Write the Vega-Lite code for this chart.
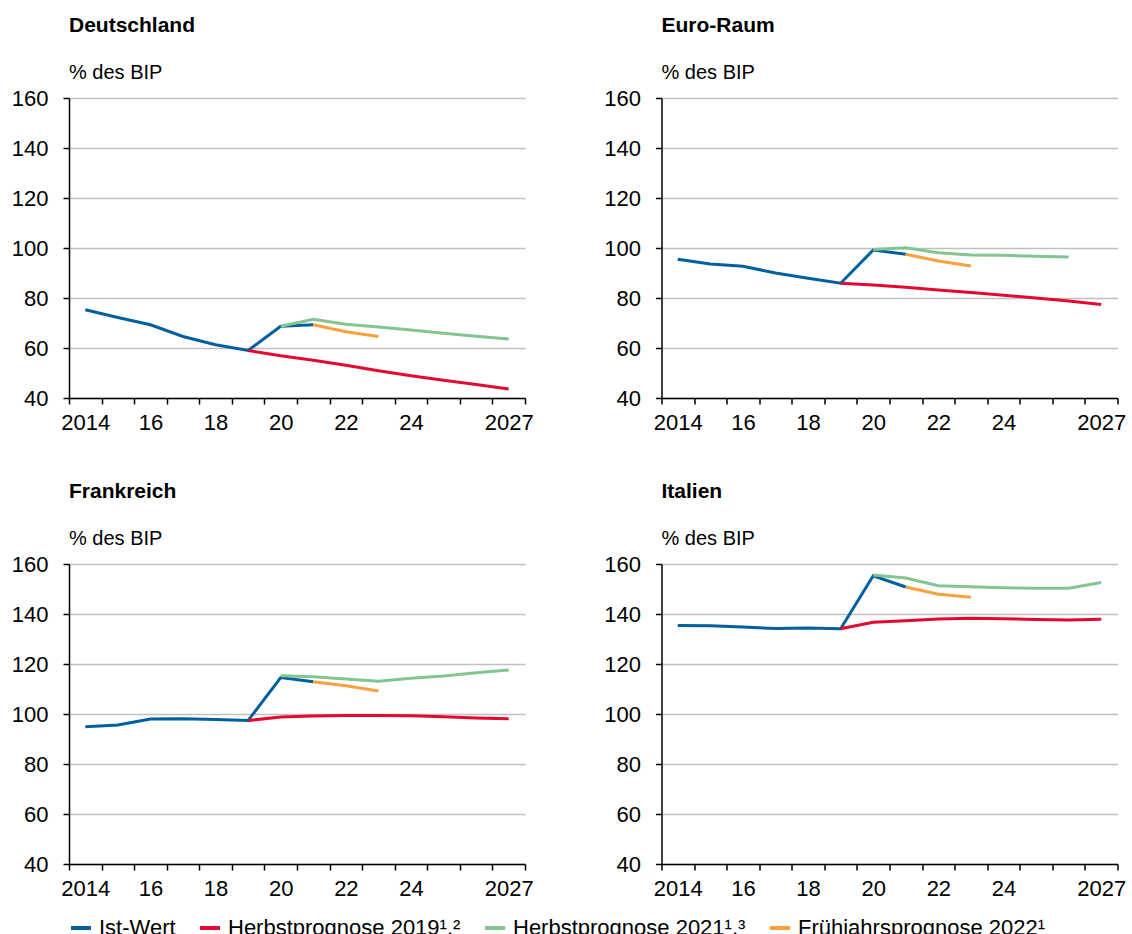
{
  "$schema": "https://vega.github.io/schema/vega-lite/v6.json",
  "padding": {"left": 11, "top": 15, "right": 5, "bottom": 5},
  "background": "white",
  "datasets": {
    "schulden": [
      {"land": "Deutschland", "serie": "ist", "jahr": 2014, "wert": 75.3},
      {"land": "Deutschland", "serie": "ist", "jahr": 2015, "wert": 72.2},
      {"land": "Deutschland", "serie": "ist", "jahr": 2016, "wert": 69.3},
      {"land": "Deutschland", "serie": "ist", "jahr": 2017, "wert": 64.6},
      {"land": "Deutschland", "serie": "ist", "jahr": 2018, "wert": 61.3},
      {"land": "Deutschland", "serie": "ist", "jahr": 2019, "wert": 59.0},
      {"land": "Deutschland", "serie": "ist", "jahr": 2020, "wert": 68.7},
      {"land": "Deutschland", "serie": "ist", "jahr": 2021, "wert": 69.3},
      {"land": "Deutschland", "serie": "h19", "jahr": 2019, "wert": 59.0},
      {"land": "Deutschland", "serie": "h19", "jahr": 2020, "wert": 56.9},
      {"land": "Deutschland", "serie": "h19", "jahr": 2021, "wert": 55.1},
      {"land": "Deutschland", "serie": "h19", "jahr": 2022, "wert": 53.1},
      {"land": "Deutschland", "serie": "h19", "jahr": 2023, "wert": 50.9},
      {"land": "Deutschland", "serie": "h19", "jahr": 2024, "wert": 48.9},
      {"land": "Deutschland", "serie": "h19", "jahr": 2025, "wert": 47.1},
      {"land": "Deutschland", "serie": "h19", "jahr": 2026, "wert": 45.4},
      {"land": "Deutschland", "serie": "h19", "jahr": 2027, "wert": 43.6},
      {"land": "Deutschland", "serie": "h21", "jahr": 2020, "wert": 68.7},
      {"land": "Deutschland", "serie": "h21", "jahr": 2021, "wert": 71.5},
      {"land": "Deutschland", "serie": "h21", "jahr": 2022, "wert": 69.5},
      {"land": "Deutschland", "serie": "h21", "jahr": 2023, "wert": 68.4},
      {"land": "Deutschland", "serie": "h21", "jahr": 2024, "wert": 67.2},
      {"land": "Deutschland", "serie": "h21", "jahr": 2025, "wert": 65.9},
      {"land": "Deutschland", "serie": "h21", "jahr": 2026, "wert": 64.7},
      {"land": "Deutschland", "serie": "h21", "jahr": 2027, "wert": 63.6},
      {"land": "Deutschland", "serie": "f22", "jahr": 2021, "wert": 69.3},
      {"land": "Deutschland", "serie": "f22", "jahr": 2022, "wert": 66.5},
      {"land": "Deutschland", "serie": "f22", "jahr": 2023, "wert": 64.6},

      {"land": "Euro-Raum", "serie": "ist", "jahr": 2014, "wert": 95.5},
      {"land": "Euro-Raum", "serie": "ist", "jahr": 2015, "wert": 93.6},
      {"land": "Euro-Raum", "serie": "ist", "jahr": 2016, "wert": 92.7},
      {"land": "Euro-Raum", "serie": "ist", "jahr": 2017, "wert": 90.0},
      {"land": "Euro-Raum", "serie": "ist", "jahr": 2018, "wert": 87.9},
      {"land": "Euro-Raum", "serie": "ist", "jahr": 2019, "wert": 85.9},
      {"land": "Euro-Raum", "serie": "ist", "jahr": 2020, "wert": 99.2},
      {"land": "Euro-Raum", "serie": "ist", "jahr": 2021, "wert": 97.5},
      {"land": "Euro-Raum", "serie": "h19", "jahr": 2019, "wert": 85.9},
      {"land": "Euro-Raum", "serie": "h19", "jahr": 2020, "wert": 85.2},
      {"land": "Euro-Raum", "serie": "h19", "jahr": 2021, "wert": 84.3},
      {"land": "Euro-Raum", "serie": "h19", "jahr": 2022, "wert": 83.2},
      {"land": "Euro-Raum", "serie": "h19", "jahr": 2023, "wert": 82.2},
      {"land": "Euro-Raum", "serie": "h19", "jahr": 2024, "wert": 81.1},
      {"land": "Euro-Raum", "serie": "h19", "jahr": 2025, "wert": 80.0},
      {"land": "Euro-Raum", "serie": "h19", "jahr": 2026, "wert": 78.8},
      {"land": "Euro-Raum", "serie": "h19", "jahr": 2027, "wert": 77.4},
      {"land": "Euro-Raum", "serie": "h21", "jahr": 2020, "wert": 99.4},
      {"land": "Euro-Raum", "serie": "h21", "jahr": 2021, "wert": 100.1},
      {"land": "Euro-Raum", "serie": "h21", "jahr": 2022, "wert": 98.1},
      {"land": "Euro-Raum", "serie": "h21", "jahr": 2023, "wert": 97.2},
      {"land": "Euro-Raum", "serie": "h21", "jahr": 2024, "wert": 97.1},
      {"land": "Euro-Raum", "serie": "h21", "jahr": 2025, "wert": 96.7},
      {"land": "Euro-Raum", "serie": "h21", "jahr": 2026, "wert": 96.4},
      {"land": "Euro-Raum", "serie": "f22", "jahr": 2021, "wert": 97.5},
      {"land": "Euro-Raum", "serie": "f22", "jahr": 2022, "wert": 94.8},
      {"land": "Euro-Raum", "serie": "f22", "jahr": 2023, "wert": 92.8},

      {"land": "Frankreich", "serie": "ist", "jahr": 2014, "wert": 94.9},
      {"land": "Frankreich", "serie": "ist", "jahr": 2015, "wert": 95.6},
      {"land": "Frankreich", "serie": "ist", "jahr": 2016, "wert": 98.0},
      {"land": "Frankreich", "serie": "ist", "jahr": 2017, "wert": 98.1},
      {"land": "Frankreich", "serie": "ist", "jahr": 2018, "wert": 97.8},
      {"land": "Frankreich", "serie": "ist", "jahr": 2019, "wert": 97.4},
      {"land": "Frankreich", "serie": "ist", "jahr": 2020, "wert": 114.6},
      {"land": "Frankreich", "serie": "ist", "jahr": 2021, "wert": 112.9},
      {"land": "Frankreich", "serie": "h19", "jahr": 2019, "wert": 97.4},
      {"land": "Frankreich", "serie": "h19", "jahr": 2020, "wert": 98.8},
      {"land": "Frankreich", "serie": "h19", "jahr": 2021, "wert": 99.2},
      {"land": "Frankreich", "serie": "h19", "jahr": 2022, "wert": 99.4},
      {"land": "Frankreich", "serie": "h19", "jahr": 2023, "wert": 99.4},
      {"land": "Frankreich", "serie": "h19", "jahr": 2024, "wert": 99.3},
      {"land": "Frankreich", "serie": "h19", "jahr": 2025, "wert": 98.9},
      {"land": "Frankreich", "serie": "h19", "jahr": 2026, "wert": 98.4},
      {"land": "Frankreich", "serie": "h19", "jahr": 2027, "wert": 98.1},
      {"land": "Frankreich", "serie": "h21", "jahr": 2020, "wert": 115.3},
      {"land": "Frankreich", "serie": "h21", "jahr": 2021, "wert": 114.9},
      {"land": "Frankreich", "serie": "h21", "jahr": 2022, "wert": 114.0},
      {"land": "Frankreich", "serie": "h21", "jahr": 2023, "wert": 113.1},
      {"land": "Frankreich", "serie": "h21", "jahr": 2024, "wert": 114.3},
      {"land": "Frankreich", "serie": "h21", "jahr": 2025, "wert": 115.2},
      {"land": "Frankreich", "serie": "h21", "jahr": 2026, "wert": 116.5},
      {"land": "Frankreich", "serie": "h21", "jahr": 2027, "wert": 117.6},
      {"land": "Frankreich", "serie": "f22", "jahr": 2021, "wert": 112.9},
      {"land": "Frankreich", "serie": "f22", "jahr": 2022, "wert": 111.3},
      {"land": "Frankreich", "serie": "f22", "jahr": 2023, "wert": 109.2},

      {"land": "Italien", "serie": "ist", "jahr": 2014, "wert": 135.4},
      {"land": "Italien", "serie": "ist", "jahr": 2015, "wert": 135.3},
      {"land": "Italien", "serie": "ist", "jahr": 2016, "wert": 134.8},
      {"land": "Italien", "serie": "ist", "jahr": 2017, "wert": 134.2},
      {"land": "Italien", "serie": "ist", "jahr": 2018, "wert": 134.4},
      {"land": "Italien", "serie": "ist", "jahr": 2019, "wert": 134.1},
      {"land": "Italien", "serie": "ist", "jahr": 2020, "wert": 155.3},
      {"land": "Italien", "serie": "ist", "jahr": 2021, "wert": 150.8},
      {"land": "Italien", "serie": "h19", "jahr": 2019, "wert": 134.1},
      {"land": "Italien", "serie": "h19", "jahr": 2020, "wert": 136.7},
      {"land": "Italien", "serie": "h19", "jahr": 2021, "wert": 137.3},
      {"land": "Italien", "serie": "h19", "jahr": 2022, "wert": 138.0},
      {"land": "Italien", "serie": "h19", "jahr": 2023, "wert": 138.3},
      {"land": "Italien", "serie": "h19", "jahr": 2024, "wert": 138.1},
      {"land": "Italien", "serie": "h19", "jahr": 2025, "wert": 137.8},
      {"land": "Italien", "serie": "h19", "jahr": 2026, "wert": 137.6},
      {"land": "Italien", "serie": "h19", "jahr": 2027, "wert": 137.9},
      {"land": "Italien", "serie": "h21", "jahr": 2020, "wert": 155.6},
      {"land": "Italien", "serie": "h21", "jahr": 2021, "wert": 154.4},
      {"land": "Italien", "serie": "h21", "jahr": 2022, "wert": 151.3},
      {"land": "Italien", "serie": "h21", "jahr": 2023, "wert": 150.9},
      {"land": "Italien", "serie": "h21", "jahr": 2024, "wert": 150.5},
      {"land": "Italien", "serie": "h21", "jahr": 2025, "wert": 150.3},
      {"land": "Italien", "serie": "h21", "jahr": 2026, "wert": 150.3},
      {"land": "Italien", "serie": "h21", "jahr": 2027, "wert": 152.6},
      {"land": "Italien", "serie": "f22", "jahr": 2021, "wert": 150.8},
      {"land": "Italien", "serie": "f22", "jahr": 2022, "wert": 147.9},
      {"land": "Italien", "serie": "f22", "jahr": 2023, "wert": 146.7}
    ]
  },
  "columns": 2,
  "spacing": {"row": 166, "column": 136.5},
  "bounds": "flush",
  "concat": [
    {
      "title": {"text": "Deutschland", "subtitle": "% des BIP"},
      "width": 456, "height": 300,
      "data": {"name": "schulden"},
      "transform": [{"filter": "datum.land == 'Deutschland'"}],
      "mark": {"type": "line", "strokeWidth": 3},
      "encoding": {
        "x": {"field": "jahr", "type": "quantitative", "scale": {"domain": [2013.5, 2027.5], "nice": false, "zero": false},
              "axis": {"values": [2013.5,2014.5,2015.5,2016.5,2017.5,2018.5,2019.5,2020.5,2021.5,2022.5,2023.5,2024.5,2025.5,2026.5,2027.5],
                       "labelExpr": "datum.value == 2013.5 ? '2014' : datum.value == 2015.5 ? '16' : datum.value == 2017.5 ? '18' : datum.value == 2019.5 ? '20' : datum.value == 2021.5 ? '22' : datum.value == 2023.5 ? '24' : datum.value == 2026.5 ? '2027' : ''"}},
        "y": {"field": "wert", "type": "quantitative", "scale": {"domain": [40, 160], "nice": false, "zero": false},
              "axis": {"values": [40, 60, 80, 100, 120, 140, 160]}},
        "color": {"field": "serie", "type": "nominal",
                  "scale": {"domain": ["ist", "h19", "h21", "f22"], "range": ["#00609f", "#e30a32", "#82c590", "#f9a03f"]},
                  "legend": {"title": null, "orient": "none", "legendX": 0, "legendY": 818, "direction": "horizontal",
                             "labelExpr": "datum.value == 'ist' ? 'Ist-Wert' : datum.value == 'h19' ? 'Herbstprognose 2019¹,²' : datum.value == 'h21' ? 'Herbstprognose 2021¹,³' : 'Frühjahrsprognose 2022¹'"}}
      }
    },
    {
      "title": {"text": "Euro-Raum", "subtitle": "% des BIP"},
      "width": 456, "height": 300,
      "data": {"name": "schulden"},
      "transform": [{"filter": "datum.land == 'Euro-Raum'"}],
      "mark": {"type": "line", "strokeWidth": 3},
      "encoding": {
        "x": {"field": "jahr", "type": "quantitative", "scale": {"domain": [2013.5, 2027.5], "nice": false, "zero": false},
              "axis": {"values": [2013.5,2014.5,2015.5,2016.5,2017.5,2018.5,2019.5,2020.5,2021.5,2022.5,2023.5,2024.5,2025.5,2026.5,2027.5],
                       "labelExpr": "datum.value == 2013.5 ? '2014' : datum.value == 2015.5 ? '16' : datum.value == 2017.5 ? '18' : datum.value == 2019.5 ? '20' : datum.value == 2021.5 ? '22' : datum.value == 2023.5 ? '24' : datum.value == 2026.5 ? '2027' : ''"}},
        "y": {"field": "wert", "type": "quantitative", "scale": {"domain": [40, 160], "nice": false, "zero": false},
              "axis": {"values": [40, 60, 80, 100, 120, 140, 160]}},
        "color": {"field": "serie", "type": "nominal",
                  "scale": {"domain": ["ist", "h19", "h21", "f22"], "range": ["#00609f", "#e30a32", "#82c590", "#f9a03f"]}}
      }
    },
    {
      "title": {"text": "Frankreich", "subtitle": "% des BIP"},
      "width": 456, "height": 300,
      "data": {"name": "schulden"},
      "transform": [{"filter": "datum.land == 'Frankreich'"}],
      "mark": {"type": "line", "strokeWidth": 3},
      "encoding": {
        "x": {"field": "jahr", "type": "quantitative", "scale": {"domain": [2013.5, 2027.5], "nice": false, "zero": false},
              "axis": {"values": [2013.5,2014.5,2015.5,2016.5,2017.5,2018.5,2019.5,2020.5,2021.5,2022.5,2023.5,2024.5,2025.5,2026.5,2027.5],
                       "labelExpr": "datum.value == 2013.5 ? '2014' : datum.value == 2015.5 ? '16' : datum.value == 2017.5 ? '18' : datum.value == 2019.5 ? '20' : datum.value == 2021.5 ? '22' : datum.value == 2023.5 ? '24' : datum.value == 2026.5 ? '2027' : ''"}},
        "y": {"field": "wert", "type": "quantitative", "scale": {"domain": [40, 160], "nice": false, "zero": false},
              "axis": {"values": [40, 60, 80, 100, 120, 140, 160]}},
        "color": {"field": "serie", "type": "nominal",
                  "scale": {"domain": ["ist", "h19", "h21", "f22"], "range": ["#00609f", "#e30a32", "#82c590", "#f9a03f"]}}
      }
    },
    {
      "title": {"text": "Italien", "subtitle": "% des BIP"},
      "width": 456, "height": 300,
      "data": {"name": "schulden"},
      "transform": [{"filter": "datum.land == 'Italien'"}],
      "mark": {"type": "line", "strokeWidth": 3},
      "encoding": {
        "x": {"field": "jahr", "type": "quantitative", "scale": {"domain": [2013.5, 2027.5], "nice": false, "zero": false},
              "axis": {"values": [2013.5,2014.5,2015.5,2016.5,2017.5,2018.5,2019.5,2020.5,2021.5,2022.5,2023.5,2024.5,2025.5,2026.5,2027.5],
                       "labelExpr": "datum.value == 2013.5 ? '2014' : datum.value == 2015.5 ? '16' : datum.value == 2017.5 ? '18' : datum.value == 2019.5 ? '20' : datum.value == 2021.5 ? '22' : datum.value == 2023.5 ? '24' : datum.value == 2026.5 ? '2027' : ''"}},
        "y": {"field": "wert", "type": "quantitative", "scale": {"domain": [40, 160], "nice": false, "zero": false},
              "axis": {"values": [40, 60, 80, 100, 120, 140, 160]}},
        "color": {"field": "serie", "type": "nominal",
                  "scale": {"domain": ["ist", "h19", "h21", "f22"], "range": ["#00609f", "#e30a32", "#82c590", "#f9a03f"]}}
      }
    }
  ],
  "config": {
    "font": "Liberation Sans",
    "view": {"stroke": null},
    "title": {"anchor": "start", "frame": "group", "fontSize": 21, "fontWeight": "bold", "color": "black",
              "subtitleFontSize": 20, "subtitleColor": "black", "subtitleFontWeight": "normal", "subtitlePadding": 27, "offset": 4},
    "axis": {"title": null, "labelFontSize": 22, "labelColor": "black", "domainColor": "black", "domainWidth": 1.5,
             "tickColor": "black", "tickWidth": 1.5, "tickSize": 6, "labelFont": "Liberation Sans"},
    "axisX": {"grid": false, "labelOffset": 16.3, "labelFlush": false, "labelOverlap": false, "labelBound": false, "labelPadding": 8, "labelAngle": 0},
    "axisY": {"grid": true, "gridColor": "#c0c0c0", "gridWidth": 1.5, "labelPadding": 15},
    "legend": {"symbolType": "stroke", "symbolSize": 400, "symbolStrokeWidth": 4, "labelFontSize": 22, "labelColor": "black",
               "labelOffset": 6, "columnPadding": 16, "labelLimit": 400, "padding": 0}
  }
}
